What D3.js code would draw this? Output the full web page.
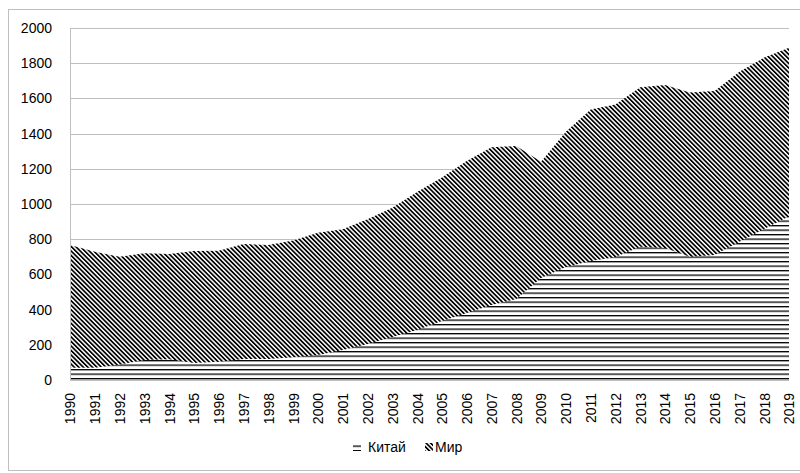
<!DOCTYPE html>
<html>
<head>
<meta charset="utf-8">
<script src="https://cdn.jsdelivr.net/npm/d3@7"></script>
<style>
  html, body { margin: 0; padding: 0; background: #fff; }
  svg { display: block; }
  text { font-family: "Liberation Sans", Arial, sans-serif; fill: #000; }
</style>
</head>
<body>
<svg id="chart" width="800" height="473"></svg>
<script>
const years = [1990,1991,1992,1993,1994,1995,1996,1997,1998,1999,2000,2001,2002,2003,2004,2005,2006,2007,2008,2009,2010,2011,2012,2013,2014,2015,2016,2017,2018,2019];
const china = [70,70,88,114,118,97,104,120,120,129,142,170,205,244,284,335,380,426,460,580,642,676,699,757,750,700,710,786,858,930];
const world = [767,728,700,720,716,733,735,773,767,792,836,857,913,978,1068,1150,1244,1322,1330,1240,1410,1537,1566,1663,1676,1633,1642,1752,1832,1888];
const yTicks = [0,200,400,600,800,1000,1200,1400,1600,1800,2000];
const seriesNames = ["Китай", "Мир"];

(function () {
const svg = d3.select("#chart");
const defs = svg.append("defs");

// Patterns
const pH = defs.append("pattern").attr("id","horz").attr("patternUnits","userSpaceOnUse")
  .attr("width", 8).attr("height", 4.5);
pH.append("rect").attr("width",8).attr("height",4.5).attr("fill","#fff");
pH.append("rect").attr("x",0).attr("y",0).attr("width",8).attr("height",1.3).attr("fill","#000");

const pD = defs.append("pattern").attr("id","diag").attr("patternUnits","userSpaceOnUse")
  .attr("width", 3.2).attr("height", 3.2).attr("patternTransform","rotate(-45)");
pD.append("rect").attr("width",3.2).attr("height",3.2).attr("fill","#fff");
pD.append("rect").attr("x",0).attr("y",0).attr("width",1.7).attr("height",3.2).attr("fill","#000");

// Outer border
svg.append("rect").attr("x",8.5).attr("y",9.5).attr("width",800).attr("height",461)
  .attr("fill","none").attr("stroke","#bfbfbf").attr("stroke-width",1);

const mLeft = 70, mRight = 789, mTop = 28, mBottom = 380;
const x = d3.scalePoint().domain(years).range([mLeft, mRight]);
const y = d3.scaleLinear().domain([0, 2000]).range([mBottom, mTop]);

// Gridlines
svg.append("g").selectAll("line").data(yTicks.filter(d => d > 0)).join("line")
  .attr("x1", mLeft).attr("x2", mRight)
  .attr("y1", d => Math.round(y(d)) + 0.5).attr("y2", d => Math.round(y(d)) + 0.5)
  .attr("stroke", "#bfbfbf").attr("stroke-width", 1);

// Areas
const area = d3.area().x((d,i) => x(years[i])).y0(y(0)).y1(d => y(d));
svg.append("path").datum(world).attr("d", area).attr("fill", "url(#diag)");
svg.append("path").datum(china).attr("d", area).attr("fill", "url(#horz)");

// Axes lines
svg.append("line").attr("x1", mLeft + 0.5).attr("x2", mLeft + 0.5).attr("y1", mTop).attr("y2", mBottom)
  .attr("stroke", "#bfbfbf");
svg.append("line").attr("x1", mLeft).attr("x2", mRight).attr("y1", mBottom + 0.5).attr("y2", mBottom + 0.5)
  .attr("stroke", "#bfbfbf");

// Y axis labels
const yAxis = d3.axisLeft(y).tickValues(yTicks).tickSize(0).tickPadding(18).tickFormat(d3.format("d"));
const gy = svg.append("g").attr("transform", `translate(${mLeft},0)`).call(yAxis);
gy.select(".domain").remove();
gy.selectAll("text").style("font-size","14px").style("font-family",'"Liberation Sans", Arial, sans-serif');

// X axis labels
const xAxis = d3.axisBottom(x).tickSize(0).tickPadding(0);
const gx = svg.append("g").attr("transform", `translate(0,${mBottom})`).call(xAxis);
gx.select(".domain").remove();
gx.selectAll("text")
  .style("font-size","14px").style("font-family",'"Liberation Sans", Arial, sans-serif')
  .attr("transform","rotate(-90)")
  .attr("x", -13).attr("y", 0).attr("dy", "0.35em")
  .attr("text-anchor","end");

// Legend
const legend = svg.append("g");
const items = [
  {name: seriesNames[0], fill: "url(#horz)", sx: 353, tx: 368},
  {name: seriesNames[1], fill: "url(#diag)", sx: 425, tx: 435}
];
items.forEach(it => {
  legend.append("rect").attr("x", it.sx).attr("y", 443).attr("width", 8).attr("height", 8).attr("fill", it.fill);
  legend.append("text").attr("x", it.tx).attr("y", 452).text(it.name)
    .style("font-size","14px");
});
})();
</script>
</body>
</html>
